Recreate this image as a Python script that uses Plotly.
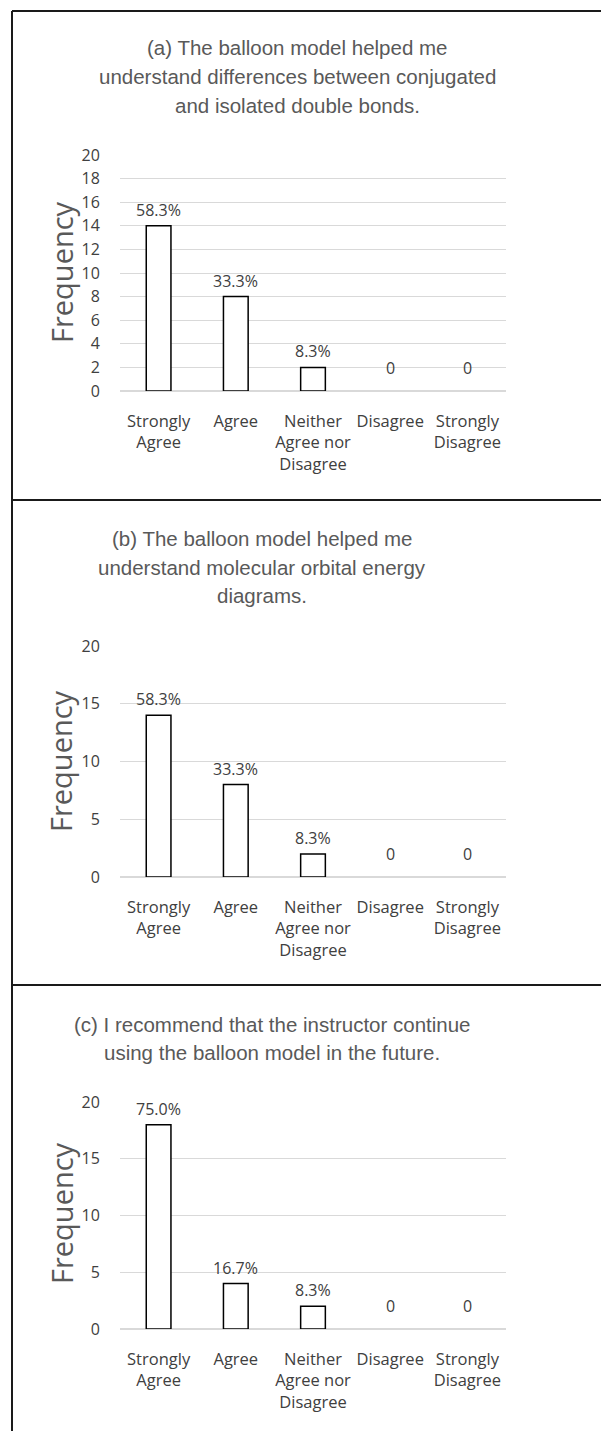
import plotly.graph_objects as go

W, H = 609, 1431
OFF = 8  # page body margin offset of the rendered figure

categories = ["Strongly<br>Agree", "Agree", "Neither<br>Agree nor<br>Disagree", "Disagree", "Strongly<br>Disagree"]
freq_a = [14, 8, 2, 0, 0]
freq_b = [14, 8, 2, 0, 0]
freq_c = [18, 4, 2, 0, 0]
labels_a = ["58.3%", "33.3%", "8.3%", "0", "0"]
labels_b = ["58.3%", "33.3%", "8.3%", "0", "0"]
labels_c = ["75.0%", "16.7%", "8.3%", "0", "0"]
title_a = ["(a) The balloon model helped me", "understand differences between conjugated", "and isolated double bonds."]
title_b = ["(b) The balloon model helped me", "understand molecular orbital energy", "diagrams."]
title_c = ["(c) I recommend that the instructor continue", "using the balloon model in the future."]
ticks_a = [0, 2, 4, 6, 8, 10, 12, 14, 16, 18, 20]
ticks_bc = [0, 5, 10, 15, 20]

def px(x):
    return (x - OFF) / W

def py(y):
    return 1 - (y - OFF) / H

panels = [
    dict(freq=freq_a, labels=labels_a, title=title_a, ticks=ticks_a, y0=391, y1=155,
         tx=297, ty=[48, 77, 105], fy=272),
    dict(freq=freq_b, labels=labels_b, title=title_b, ticks=ticks_bc, y0=877, y1=646,
         tx=262, ty=[538, 567, 595], fy=761),
    dict(freq=freq_c, labels=labels_c, title=title_c, ticks=ticks_bc, y0=1329, y1=1102,
         tx=272, ty=[1024, 1052], fy=1213),
]

fig = go.Figure()
annotations = []
shapes = []
font_tick = dict(family="Open Sans", size=16, color="#404040")
font_cat = dict(family="Open Sans", size=16.5, color="#404040")

for i, p in enumerate(panels):
    n = "" if i == 0 else str(i + 1)
    xa, ya = "x" + n, "y" + n
    fig.add_trace(go.Bar(
        x=categories, y=p["freq"], xaxis=xa, yaxis=ya, width=0.32,
        marker=dict(color="white",
                    line=dict(color="black", width=[1.5 if v > 0 else 0 for v in p["freq"]])),
        showlegend=False, hoverinfo="skip"))
    fig.update_layout(**{
        "xaxis" + n: dict(domain=[px(120), px(506)], anchor=ya, showgrid=False,
                          zeroline=False, showline=False, ticks="outside", ticklen=15,
                          tickcolor="rgba(0,0,0,0)", tickfont=font_cat, automargin=False,
                          categoryorder="array", categoryarray=categories, fixedrange=True),
        "yaxis" + n: dict(domain=[py(p["y0"]), py(p["y1"])], anchor=xa, range=[0, 20],
                          tickvals=p["ticks"], showgrid=True, gridcolor="#d9d9d9", gridwidth=1,
                          zeroline=True, zerolinecolor="#d9d9d9", zerolinewidth=1.5,
                          showline=False, ticks="outside", ticklen=16, automargin=False,
                          tickcolor="rgba(0,0,0,0)", tickfont=font_tick, fixedrange=True),
    })
    for c, v, lab in zip(categories, p["freq"], p["labels"]):
        annotations.append(dict(x=c, y=v, xref=xa, yref=ya, text=lab, showarrow=False,
                                yanchor="middle", yshift=23 if v == 0 else 16,
                                font=dict(family="Open Sans", size=16, color="#404040")))
    for line, ly in zip(p["title"], p["ty"]):
        annotations.append(dict(x=px(p["tx"]), y=py(ly), xref="paper", yref="paper",
                                text=line, showarrow=False, xanchor="center", yanchor="middle",
                                font=dict(family="Liberation Sans, Arial", size=20.5, color="#595959")))
    annotations.append(dict(x=px(61), y=py(p["fy"]), xref="paper", yref="paper",
                            text="Frequency", textangle=-90, showarrow=False,
                            xanchor="center", yanchor="middle",
                            font=dict(family="Open Sans", size=29, color="#595959")))

# panel borders
for y in [11, 500, 985]:
    shapes.append(dict(type="line", xref="paper", yref="paper", x0=px(12), x1=1,
                       y0=py(y), y1=py(y), line=dict(color="#1a1a1a", width=2)))
shapes.append(dict(type="line", xref="paper", yref="paper", x0=px(12), x1=px(12),
                   y0=py(11), y1=0, line=dict(color="#1a1a1a", width=2)))

fig.update_layout(width=W, height=H, margin=dict(l=0, r=0, t=0, b=0, pad=0, autoexpand=False),
                  paper_bgcolor="white", plot_bgcolor="white",
                  annotations=annotations, shapes=shapes, bargap=0.6)

fig.write_html("out.html")
